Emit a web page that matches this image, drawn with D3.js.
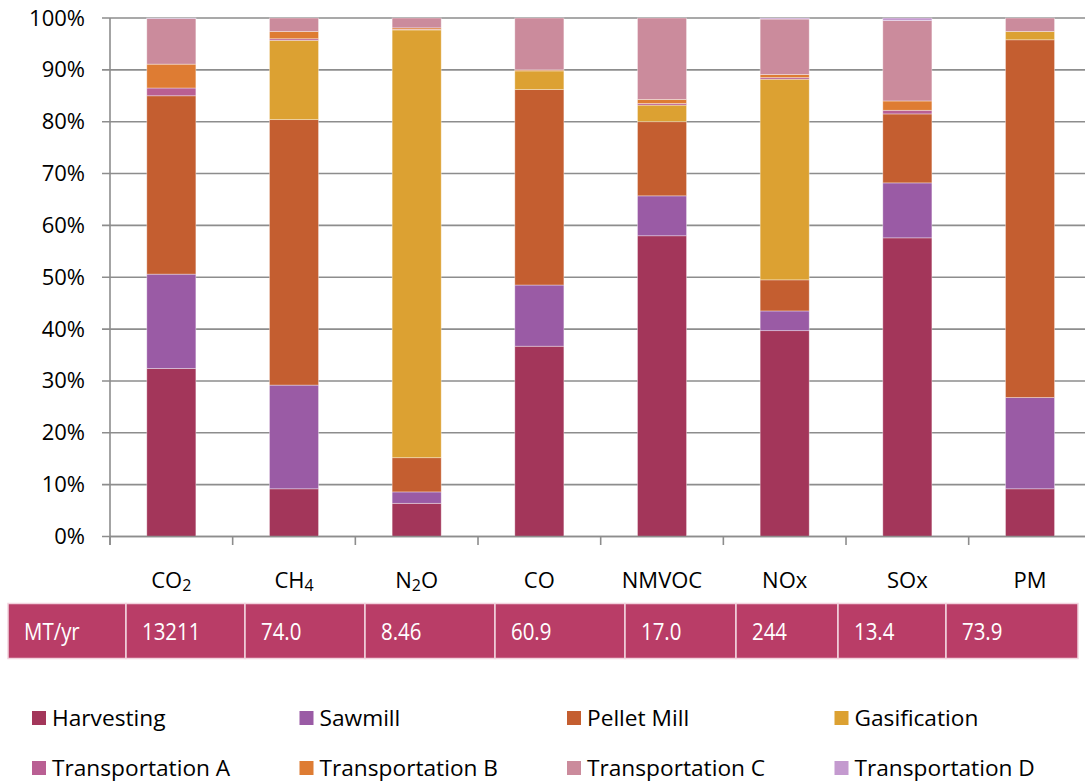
<!DOCTYPE html>
<html>
<head>
<meta charset="utf-8">
<script src="https://cdn.jsdelivr.net/npm/d3@7"></script>
<style>
  body { margin: 0; background: #fff; }
  svg { display: block; }
  text { font-family: "Open Sans", "Noto Sans", sans-serif; }
</style>
</head>
<body>
<svg id="chart" width="1085" height="783"></svg>
<script>
// Pollutants (digits are drawn as subscripts)
const categories = ["CO2", "CH4", "N2O", "CO", "NMVOC", "NOx", "SOx", "PM"];

// Share of each pollutant by process stage, percent
const stageNames = ["Harvesting", "Sawmill", "Pellet Mill", "Gasification",
                    "Transportation A", "Transportation B", "Transportation C", "Transportation D"];
const harvesting   = [32.4,  9.2,  6.4, 36.7, 58.0, 39.7, 57.6,  9.2];
const sawmill      = [18.2, 20.0,  2.2, 11.8,  7.7,  3.8, 10.6, 17.6];
const pelletMill   = [34.4, 51.2,  6.6, 37.7, 14.3,  6.0, 13.3, 69.0];
const gasification = [ 0.0, 15.3, 82.5,  3.6,  3.2, 38.7,  0.0,  1.6];
const transportA   = [ 1.5,  0.3,  0.1,  0.0,  0.3,  0.3,  0.7,  0.0];
const transportB   = [ 4.6,  1.4,  0.3,  0.2,  0.8,  0.6,  1.8,  0.0];
const transportC   = [ 8.8,  2.6,  1.9, 10.0, 15.7, 10.7, 15.5,  2.6];
const transportD   = [ 0.1,  0.0,  0.0,  0.0,  0.0,  0.2,  0.5,  0.0];

// Annual totals shown in the table row
const totalsUnit = "MT/yr";
const annualTotals = ["13211", "74.0", "8.46", "60.9", "17.0", "244", "13.4", "73.9"];

// Axis ticks, percent
const yTickValues = [0, 10, 20, 30, 40, 50, 60, 70, 80, 90, 100];

// ---- styling ----
const stageColors = ["#A3365A", "#9A5BA5", "#C45E30", "#DCA132",
                     "#B95F93", "#DE7C33", "#CB8B9C", "#C49ACF"];
const gridColor = "#8d8d8d";
const tableFill = "#B93D67";

const seriesValues = [harvesting, sawmill, pelletMill, gasification,
                      transportA, transportB, transportC, transportD];

const rows = categories.map((c, i) => {
  const r = { category: c };
  stageNames.forEach((s, k) => { r[s] = seriesValues[k][i]; });
  return r;
});

const svg = d3.select("#chart");
const W = 1085;

const plotLeft = 110, step = 122.67;
const x = d3.scaleBand()
  .domain(categories)
  .range([plotLeft, plotLeft + step * categories.length])
  .paddingInner(0.6)
  .paddingOuter(0.3);
const y = d3.scaleLinear().domain([0, 100]).range([536.5, 18]);

// gridlines
svg.append("g")
  .selectAll("line")
  .data(yTickValues)
  .join("line")
  .attr("x1", plotLeft - 8).attr("x2", W)
  .attr("y1", d => y(d)).attr("y2", d => y(d))
  .attr("stroke", gridColor).attr("stroke-width", 1.6);

// y tick labels
const yAxis = d3.axisLeft(y).tickValues(yTickValues).tickFormat(d => d + "%").tickSize(0).tickPadding(25);
const gy = svg.append("g").attr("transform", `translate(${plotLeft},0)`).call(yAxis);
gy.select(".domain").remove();
gy.selectAll("text")
  .attr("font-family", '"Open Sans", sans-serif')
  .attr("font-size", 22)
  .attr("fill", "#000");

// stacked bars
const stacked = d3.stack().keys(stageNames)(rows);
svg.append("g")
  .selectAll("g")
  .data(stacked)
  .join("g")
  .attr("fill", (d, i) => stageColors[i])
  .selectAll("rect")
  .data(d => d.filter(p => p[1] - p[0] > 0))
  .join("rect")
  .attr("x", d => x(d.data.category))
  .attr("width", x.bandwidth())
  .attr("y", d => y(d[1]))
  .attr("height", d => y(d[0]) - y(d[1]))
  .attr("stroke", "rgba(255,255,255,0.45)")
  .attr("stroke-width", 0.8);

// axis lines and category boundary ticks
const axisG = svg.append("g").attr("stroke", gridColor).attr("stroke-width", 1.6);
axisG.append("line").attr("x1", plotLeft).attr("x2", plotLeft).attr("y1", y(100)).attr("y2", y(0) + 8.5);
axisG.append("line").attr("x1", plotLeft).attr("x2", W).attr("y1", y(0)).attr("y2", y(0));
const boundaries = d3.range(categories.length + 1).map(i => plotLeft + i * x.step());
axisG.selectAll("line.tick")
  .data(boundaries)
  .join("line")
  .attr("class", "tick")
  .attr("x1", d => d).attr("x2", d => d)
  .attr("y1", y(0)).attr("y2", y(0) + 8.5);

// category labels with subscripts
const catLabels = svg.append("g")
  .selectAll("text")
  .data(categories)
  .join("text")
  .attr("x", d => x(d) + x.bandwidth() / 2)
  .attr("y", 588)
  .attr("text-anchor", "middle")
  .attr("font-size", 22)
  .attr("fill", "#000");
catLabels.each(function (d) {
  const t = d3.select(this);
  const parts = d.match(/[A-Za-z]+|\d+/g);
  let sub = false;
  parts.forEach(p => {
    const isDigit = /\d/.test(p);
    const ts = t.append("tspan").text(p);
    if (isDigit) { ts.attr("font-size", 16).attr("dy", 3); sub = true; }
    else if (sub) { ts.attr("dy", -3); sub = false; }
  });
});

// totals table
const cellEdges = [8, 126, 245, 365, 495, 625, 736, 838, 946, 1078];
const cellTop = 603.5, cellBottom = 658.5;
const tableTexts = [totalsUnit, ...annualTotals];
const table = svg.append("g");
table.selectAll("rect")
  .data(tableTexts)
  .join("rect")
  .attr("x", (d, i) => cellEdges[i])
  .attr("width", (d, i) => cellEdges[i + 1] - cellEdges[i])
  .attr("y", cellTop)
  .attr("height", cellBottom - cellTop)
  .attr("fill", tableFill)
  .attr("stroke", "#f2d3de")
  .attr("stroke-width", 1.5);
table.selectAll("text")
  .data(tableTexts)
  .join("text")
  .attr("transform", (d, i) => `translate(${cellEdges[i] + 16},640) scale(0.87,1)`)
  .attr("font-size", 23.5)
  .attr("fill", "#fff")
  .text(d => d);

// legend
const legend = svg.append("g")
  .selectAll("g")
  .data(stageNames)
  .join("g")
  .attr("transform", (d, i) => `translate(${32 + (i % 4) * 267.5},${711 + Math.floor(i / 4) * 50})`);
legend.append("rect")
  .attr("width", 14).attr("height", 14)
  .attr("fill", (d, i) => stageColors[i]);
legend.append("text")
  .attr("x", 20).attr("y", 15)
  .attr("font-size", 22.7)
  .attr("fill", "#000")
  .text(d => d);
</script>
</body>
</html>
